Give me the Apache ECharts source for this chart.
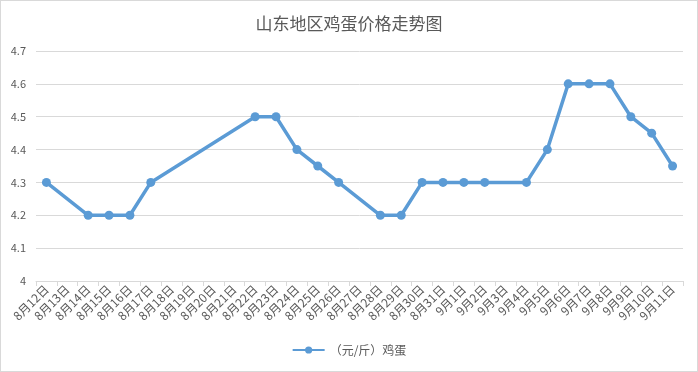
<!DOCTYPE html>
<html><head><meta charset="utf-8">
<script src="https://cdn.jsdelivr.net/npm/echarts@6/dist/echarts.min.js"></script>
<style>html,body{margin:0;padding:0;background:#fff}#c{width:698px;height:372px;box-sizing:border-box;border:1px solid #d9d9d9}</style>
</head><body><div id="c"></div>
<script>
const categories = ['8月12日','8月13日','8月14日','8月15日','8月16日','8月17日','8月18日','8月19日','8月20日','8月21日','8月22日','8月23日','8月24日','8月25日','8月26日','8月27日','8月28日','8月29日','8月30日','8月31日','9月1日','9月2日','9月3日','9月4日','9月5日','9月6日','9月7日','9月8日','9月9日','9月10日','9月11日'];
const eggPrice = [4.3,null,4.2,4.2,4.2,4.3,null,null,null,null,4.5,4.5,4.4,4.35,4.3,null,4.2,4.2,4.3,4.3,4.3,4.3,null,4.3,4.4,4.6,4.6,4.6,4.5,4.45,4.35];
const seriesName = '（元/斤）鸡蛋';
const yMin = 4, yMax = 4.7, yStep = 0.1;

const chart = echarts.init(document.getElementById('c'));
const font = '"Microsoft YaHei","Noto Sans CJK SC",sans-serif';
chart.setOption({
  animation:false,
  title:{text:'山东地区鸡蛋价格走势图',left:'center',top:9,textStyle:{fontFamily:font,fontSize:17,fontWeight:'normal',color:'#595959'}},
  grid:{left:35,right:14,top:50,bottom:90},
  legend:{bottom:10,left:'center',itemWidth:32,itemHeight:9,textStyle:{fontFamily:font,fontSize:12,color:'#595959'},data:[seriesName]},
  xAxis:{type:'category',data:categories,boundaryGap:true,
    axisLine:{lineStyle:{color:'#d9d9d9'}},
    axisTick:{show:true,length:5,alignWithLabel:false,lineStyle:{color:'#d9d9d9'}},
    axisLabel:{rotate:45,interval:0,fontFamily:font,fontSize:12,color:'#595959',margin:6}},
  yAxis:{type:'value',min:yMin,max:yMax,interval:yStep,
    axisLine:{show:false},axisTick:{show:false},
    splitLine:{lineStyle:{color:'#d9d9d9'}},
    axisLabel:{fontFamily:font,fontSize:11,color:'#595959',margin:10,formatter:v=>String(Math.round(v*10)/10)}},
  series:[{name:seriesName,type:'line',data:eggPrice,connectNulls:true,symbol:'circle',symbolSize:9,
    lineStyle:{width:3.5,color:'#5b9bd5'},itemStyle:{color:'#5b9bd5'}}]
});
</script></body></html>
